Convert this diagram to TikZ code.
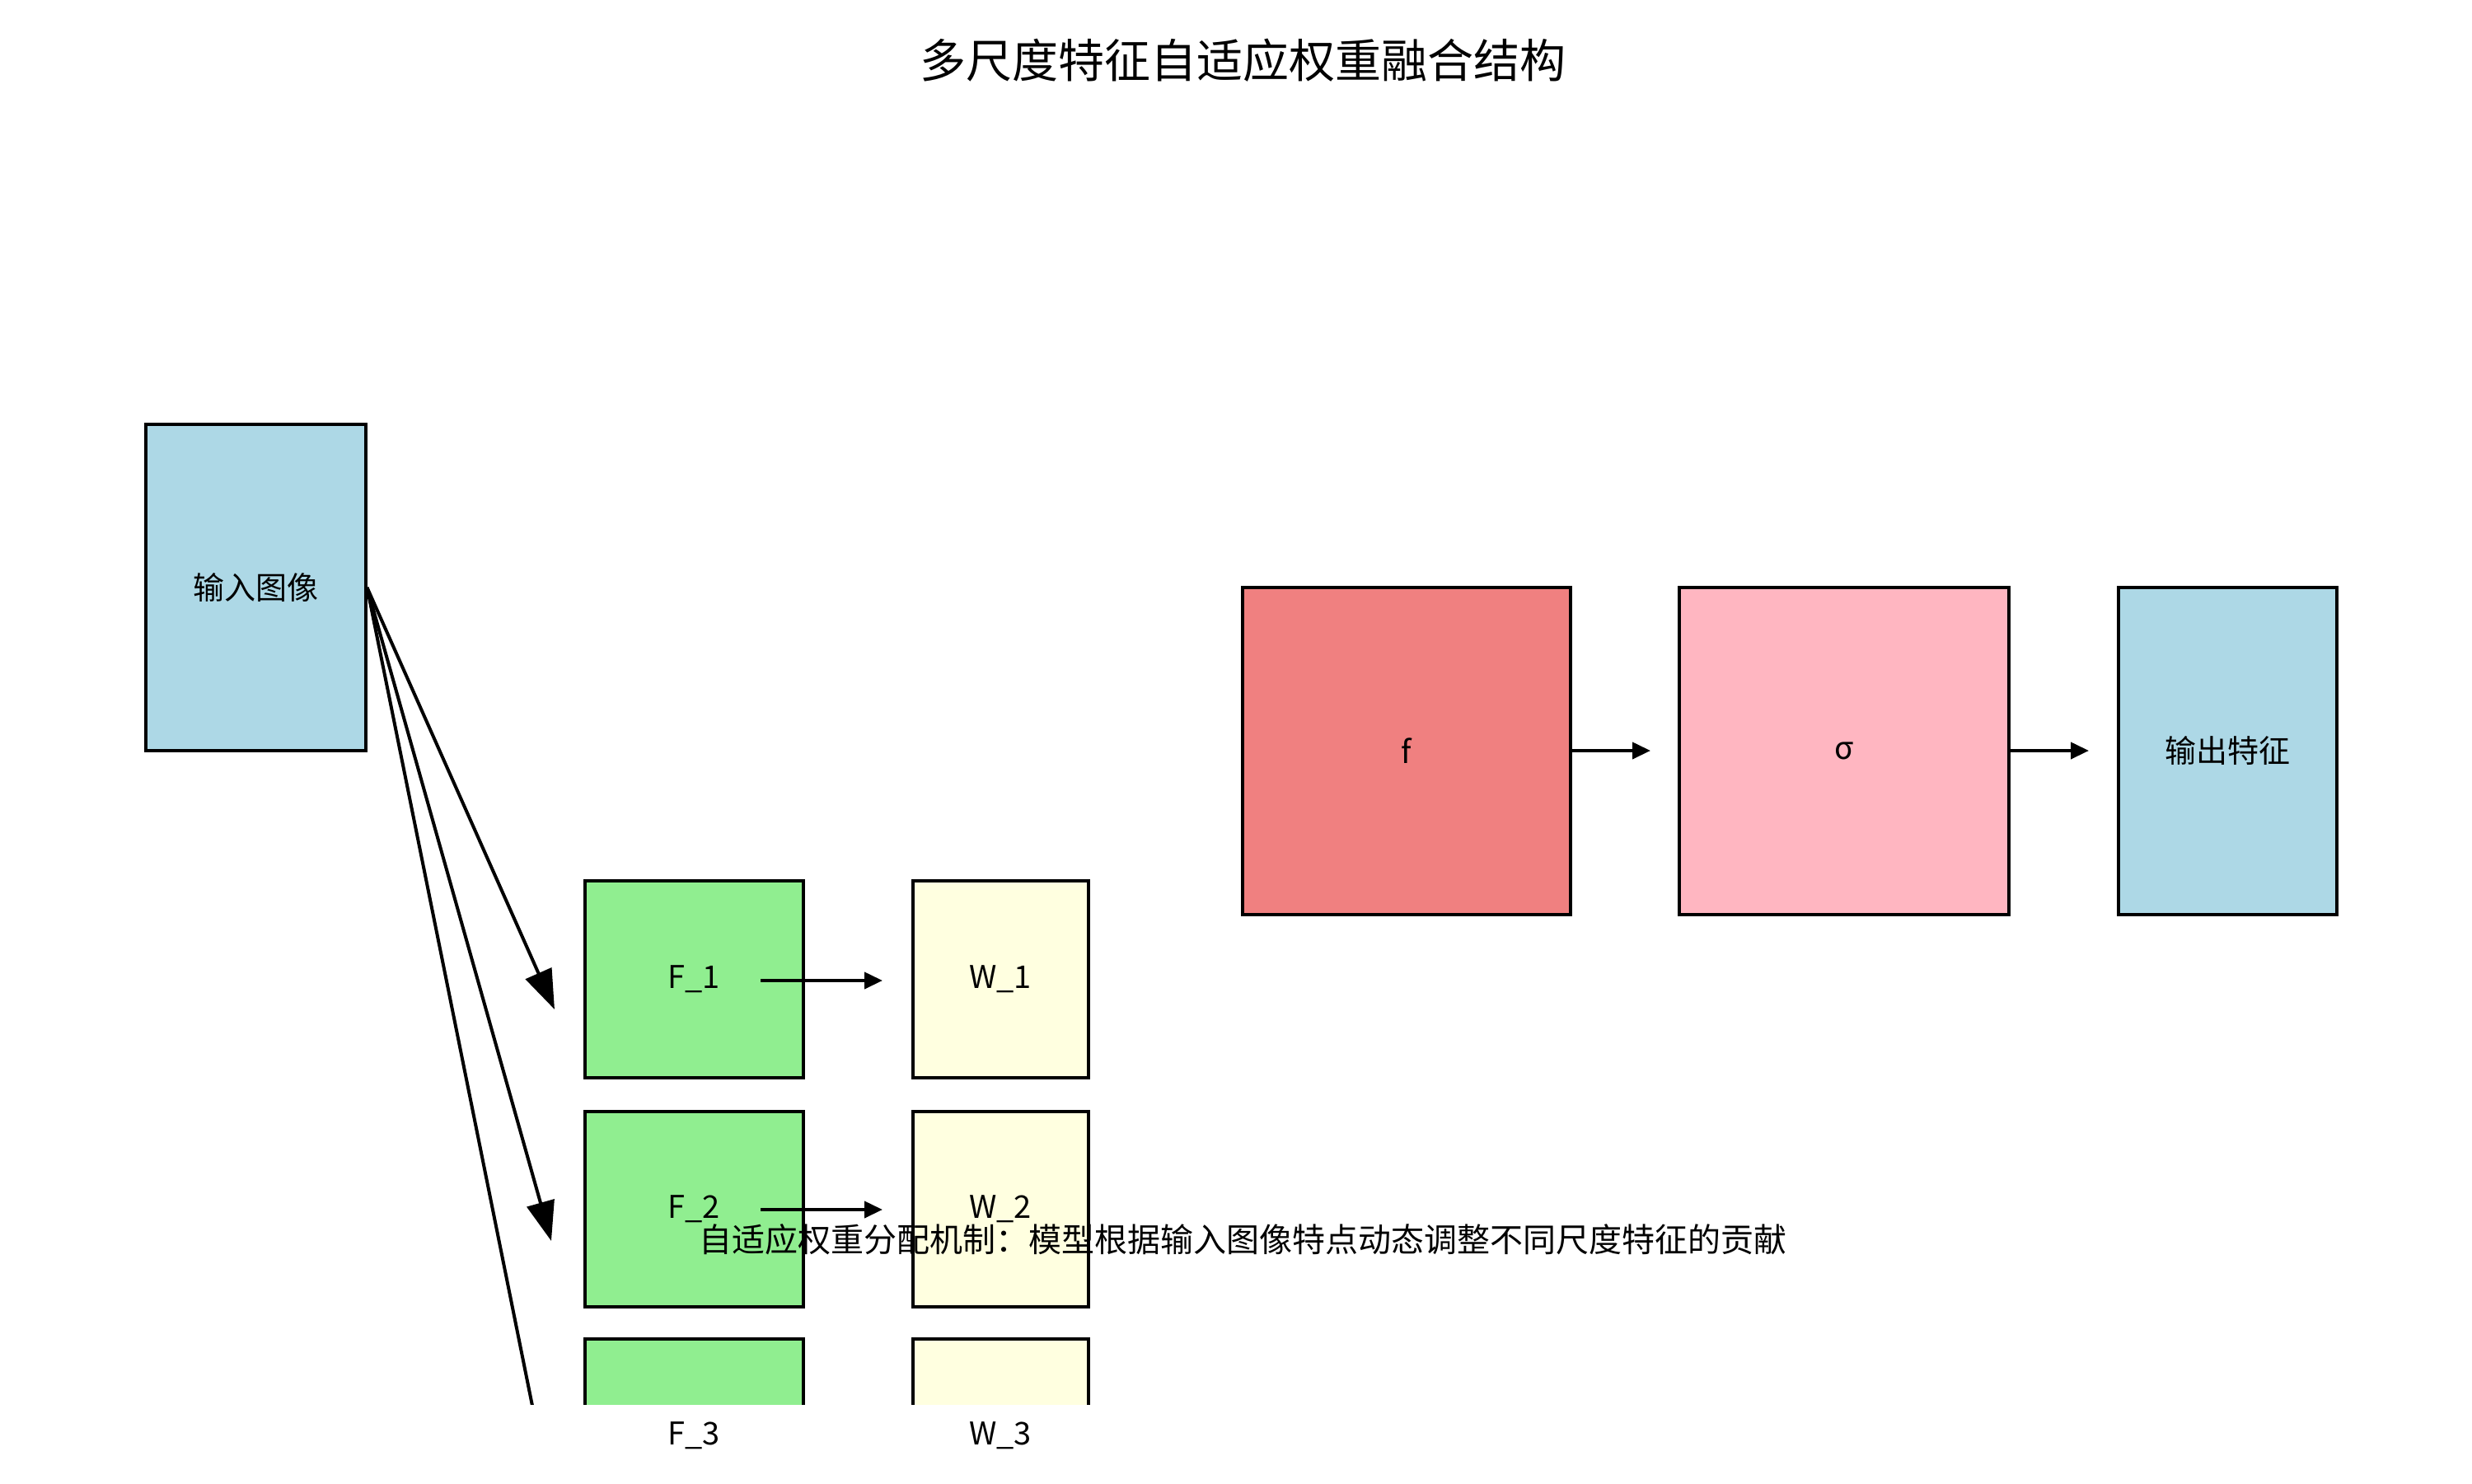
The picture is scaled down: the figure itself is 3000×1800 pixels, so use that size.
\documentclass[tikz,border=0pt]{standalone}
\usepackage{fontspec}
\setmainfont{Noto Sans CJK SC}
\usetikzlibrary{arrows.meta}
\begin{document}
\begin{tikzpicture}[x=1pt,y=-1pt,
  box/.style={draw=black,line width=4pt,inner sep=0pt},
  lbl/.style={font=\fontsize{38}{44}\selectfont},
  big/.style={line width=4pt,-{Triangle[length=48pt,width=34pt]}},
  small/.style={line width=4pt,-{Triangle[length=22pt,width=20pt]}}]
\useasboundingbox (0,0) rectangle (3000,1800);
\node[font=\fontsize{56}{64}\selectfont] (title) at (1508,73) {多尺度特征自适应权重融合结构};
\node[box,fill=cyan!20!blue!10!white,fill={rgb,255:red,173;green,216;blue,230},minimum width=267pt,minimum height=396pt,lbl] (in) at (310,713) {输入图像};
\node[box,fill={rgb,255:red,240;green,128;blue,128},minimum width=398pt,minimum height=397pt,lbl] (f) at (1707,911) {f};
\node[box,fill={rgb,255:red,255;green,182;blue,193},minimum width=400pt,minimum height=397pt,lbl] (s) at (2238,911) {σ};
\node[box,fill={rgb,255:red,173;green,216;blue,230},minimum width=265pt,minimum height=397pt,lbl] (out) at (2703,911) {输出特征};
\coordinate (fo) at (2003,911); \coordinate (so) at (2535,911);
\draw[small] (f.east) -- (fo);
\draw[small] (s.east) -- (so);
\begin{scope}
\clip (0,0) rectangle (3000,1704);
\node[box,fill={rgb,255:red,144;green,238;blue,144},minimum width=265pt,minimum height=239pt,lbl] (F1) at (842,1188) {F\_1};
\node[box,fill={rgb,255:red,255;green,255;blue,224},minimum width=213pt,minimum height=239pt,lbl] (W1) at (1214,1188) {W\_1};
\node[box,fill={rgb,255:red,144;green,238;blue,144},minimum width=265pt,minimum height=237pt,lbl] (F2) at (842,1467) {F\_2};
\node[box,fill={rgb,255:red,255;green,255;blue,224},minimum width=213pt,minimum height=237pt,lbl] (W2) at (1214,1467) {W\_2};
\node[box,fill={rgb,255:red,144;green,238;blue,144},minimum width=265pt,minimum height=237pt] (F3) at (842,1743) {};
\node[box,fill={rgb,255:red,255;green,255;blue,224},minimum width=213pt,minimum height=237pt] (W3) at (1214,1743) {};
\coordinate (a1s) at (923,1190); \coordinate (a1e) at (1071,1190);
\coordinate (a2s) at (923,1468); \coordinate (a2e) at (1071,1468);
\draw[small] (a1s) -- (a1e);
\draw[small] (a2s) -- (a2e);
\coordinate (t1) at (673,1225); \coordinate (t2) at (669,1506); \coordinate (t3) at (665,1800);
\draw[big] (in.east) -- (t1);
\draw[big] (in.east) -- (t2);
\draw[line width=4pt] (in.east) -- (t3);
\end{scope}
\node[lbl] (F3l) at (842,1742) {F\_3};
\node[lbl] (W3l) at (1214,1742) {W\_3};
\node[font=\fontsize{40}{46}\selectfont] (note) at (1508,1504) {自适应权重分配机制：模型根据输入图像特点动态调整不同尺度特征的贡献};
\end{tikzpicture}
\end{document}
